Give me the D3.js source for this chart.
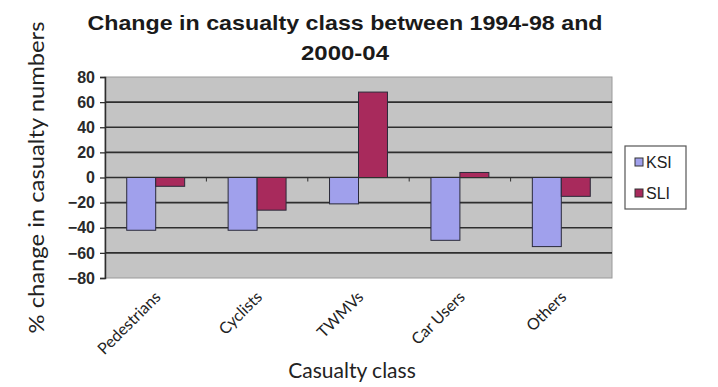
<!DOCTYPE html>
<html>
<head>
<meta charset="utf-8">
<script src="https://cdn.jsdelivr.net/npm/d3@7"></script>
<style>
  html, body { margin: 0; padding: 0; background: #fff; }
  svg { display: block; }
</style>
</head>
<body>
<svg id="chart" width="718" height="387"></svg>
<script>
// Casualty classes and % change per series (KSI / SLI)
const categories = ["Pedestrians", "Cyclists", "TWMVs", "Car Users", "Others"];
const seriesNames = ["KSI", "SLI"];
const ksiValues = [-42, -42, -21, -50, -55];
const sliValues = [-7, -26, 68, 4, -15];
const yTicks = [80, 60, 40, 20, 0, -20, -40, -60, -80];
const titleLines = ["Change in casualty class between 1994-98 and", "2000-04"];

const colors = { KSI: "#a0a0ec", SLI: "#a82a5c" };
const rows = categories.map((c, i) => ({ category: c, KSI: ksiValues[i], SLI: sliValues[i] }));

const svg = d3.select("#chart");
const plot = { left: 105, right: 612, top: 77, bottom: 278 };

const x = d3.scaleBand().domain(categories).range([plot.left, plot.right]).paddingInner(0).paddingOuter(0);
// Excel-style gap: two bars + 150% gap per category
const barW = x.bandwidth() / 3.5;
const xInner = d3.scaleBand().domain(seriesNames).range([0, barW * 2]);
const y = d3.scaleLinear().domain([-80, 80]).range([plot.bottom, plot.top]);

// Plot background
svg.append("rect")
  .attr("x", plot.left).attr("y", plot.top)
  .attr("width", plot.right - plot.left).attr("height", plot.bottom - plot.top)
  .attr("fill", "#c4c4c4").attr("stroke", "#9a9a9a").attr("stroke-width", 1);

// Horizontal gridlines
svg.append("g").selectAll("line")
  .data(yTicks.filter(t => t !== 80 && t !== -80))
  .join("line")
  .attr("x1", plot.left).attr("x2", plot.right)
  .attr("y1", d => y(d)).attr("y2", d => y(d))
  .attr("stroke", "#2e2e2e").attr("stroke-width", 1.6);

// Bars
const groups = svg.append("g").selectAll("g")
  .data(rows).join("g")
  .attr("transform", d => `translate(${x(d.category) + barW * 0.75},0)`);

groups.selectAll("rect")
  .data(d => seriesNames.map(s => ({ s, v: d[s] })))
  .join("rect")
  .attr("x", d => xInner(d.s))
  .attr("width", xInner.bandwidth())
  .attr("y", d => y(Math.max(0, d.v)))
  .attr("height", d => Math.abs(y(d.v) - y(0)))
  .attr("fill", d => colors[d.s])
  .attr("stroke", "#2a2a3a").attr("stroke-width", 1);

// Category axis at zero with boundary ticks
svg.append("line")
  .attr("x1", plot.left).attr("x2", plot.right)
  .attr("y1", y(0)).attr("y2", y(0))
  .attr("stroke", "#2e2e2e").attr("stroke-width", 1.2);
svg.append("g").selectAll("line")
  .data(categories.slice(1))
  .join("line")
  .attr("x1", d => x(d)).attr("x2", d => x(d))
  .attr("y1", y(0)).attr("y2", y(0) + 4)
  .attr("stroke", "#2e2e2e").attr("stroke-width", 1);

// Value axis
const yAxis = d3.axisLeft(y).tickValues(yTicks).tickSize(5).tickPadding(5);
const yg = svg.append("g").attr("transform", `translate(${plot.left},0)`).call(yAxis);
yg.select(".domain").attr("stroke", "#2e2e2e").attr("stroke-width", 1.5);
yg.selectAll(".tick line").attr("stroke", "#2e2e2e").attr("stroke-width", 1.3);
yg.selectAll(".tick text")
  .attr("font-family", "Liberation Sans, Arial, sans-serif")
  .attr("font-size", 16).attr("font-weight", "bold").attr("fill", "#2a2a2a");

// Rotated category labels
svg.append("g").selectAll("text")
  .data(categories)
  .join("text")
  .attr("transform", d => `translate(${x(d) + x.bandwidth() / 2 + 6},${plot.bottom + 20}) rotate(-45)`)
  .attr("text-anchor", "end")
  .attr("font-family", "Lato, 'Open Sans', sans-serif")
  .attr("font-size", 16).attr("fill", "#222")
  .text(d => d);

// Axis titles
svg.append("text")
  .attr("x", 352).attr("y", 378)
  .attr("text-anchor", "middle")
  .attr("font-family", "Lato, 'Open Sans', sans-serif")
  .attr("font-size", 21).attr("fill", "#222")
  .text("Casualty class");

svg.append("text")
  .attr("transform", `translate(44,${(plot.top + plot.bottom) / 2}) rotate(-90)`)
  .attr("text-anchor", "middle")
  .attr("font-family", "Lato, 'Open Sans', sans-serif")
  .attr("font-size", 22).attr("fill", "#222")
  .attr("textLength", 312).attr("lengthAdjust", "spacingAndGlyphs")
  .text("% change in casualty numbers");

// Title
const titleWidths = [515, 88];
svg.append("g").selectAll("text")
  .data(titleLines)
  .join("text")
  .attr("x", 345).attr("y", (d, i) => 30 + i * 30)
  .attr("text-anchor", "middle")
  .attr("font-family", "Liberation Sans, Arial, sans-serif")
  .attr("font-size", 21).attr("font-weight", "bold").attr("fill", "#1a1a1a")
  .attr("textLength", (d, i) => titleWidths[i]).attr("lengthAdjust", "spacingAndGlyphs")
  .text(d => d);

// Legend
const legend = svg.append("g").attr("transform", "translate(625,146)");
legend.append("rect")
  .attr("width", 61).attr("height", 63)
  .attr("fill", "#fff").attr("stroke", "#555").attr("stroke-width", 1.2);
const items = legend.selectAll("g.item")
  .data(seriesNames).join("g")
  .attr("class", "item")
  .attr("transform", (d, i) => `translate(10,${22 + i * 31})`);
items.append("rect")
  .attr("x", 0).attr("y", -10).attr("width", 8).attr("height", 8)
  .attr("fill", d => colors[d]).attr("stroke", "#333").attr("stroke-width", 1);
items.append("text")
  .attr("x", 11).attr("y", 0)
  .attr("font-family", "Liberation Sans, Arial, sans-serif")
  .attr("font-size", 16).attr("fill", "#222")
  .text(d => d);
</script>
</body>
</html>
